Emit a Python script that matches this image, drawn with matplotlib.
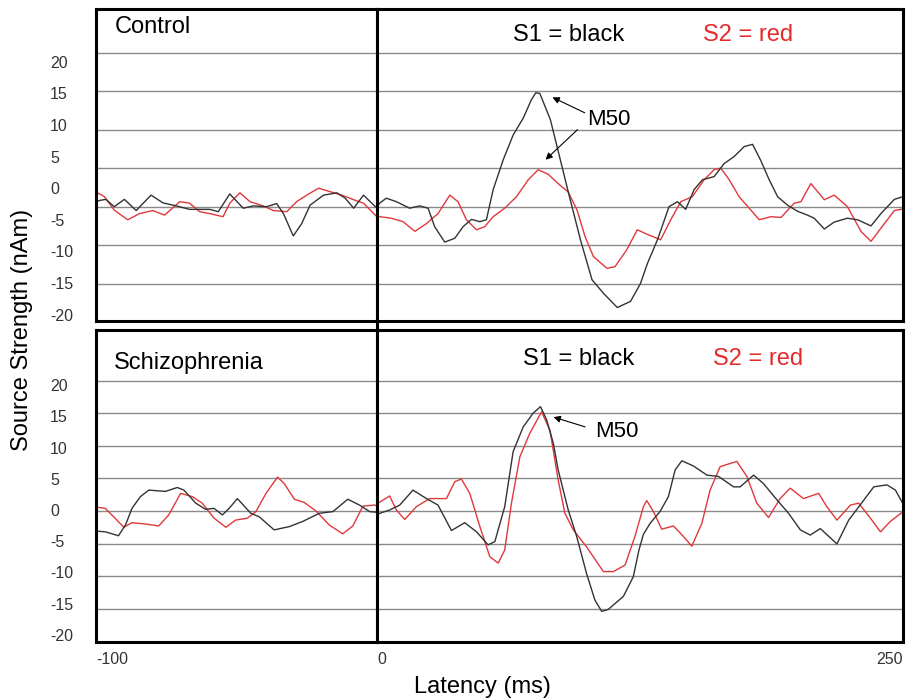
import matplotlib
matplotlib.use('Agg')
import matplotlib.pyplot as plt
from matplotlib.lines import Line2D

plt.rcParams['font.family'] = ['Liberation Sans', 'DejaVu Sans']

# Control, pre-stimulus (-100..0 ms)
ctrl_pre_s1_t = [-100, -98.8, -96.5, -93.5, -89.9, -85.7, -80.4, -76.2, -71.4, -66.7, -59.5, -56.5, -52.4, -47.6,
                 -44, -39.3, -35.7, -33.3, -29.8, -26.8, -23.8, -19, -14.3, -11.3, -8.3, -4.8, -0.6, 0]
ctrl_pre_s1_v = [0.6, 0.8, 0.95, 0.0, 0.95, -0.5, 1.5, 0.5, 0.1, -0.35, -0.35, -0.65, 1.65, -0.2,
                 0.1, 0.0, 0.4, -0.9, -3.8, -2.2, 0.2, 1.5, 1.8, 1.1, -0.2, 1.5, 0.0, -0.1]
ctrl_pre_s2_t = [-100, -97, -93.5, -88.7, -84.5, -79.8, -75.6, -70.2, -66.7, -63.1, -59.5, -54.8, -52.4, -48.8,
                 -45.2, -40.5, -36.9, -32.1, -28.6, -25, -20.8, -16.7, -12.5, -8.3, -4.8, -0.6, 0]
ctrl_pre_s2_v = [1.9, 1.3, -0.45, -1.7, -0.9, -0.5, -1.1, 0.65, 0.45, -0.65, -0.9, -1.3, 0.45, 1.8,
                 0.65, 0.1, -0.5, -0.65, 0.65, 1.5, 2.4, 1.95, 1.5, 0.9, 0.45, -1.1, -1.3]

# Control, post-stimulus (0..250 ms)
ctrl_post_s1_t = [0, 1.25, 4.4, 9.2, 15.5, 20.3, 24.3, 27.4, 32.2, 37, 40.9, 44.9, 48.9, 52, 55.2, 60, 64.7,
                  69.5, 73.4, 75.5, 77.4, 82.4, 86.4, 91.1, 96.7, 102.2, 107.8, 114.2, 120.5, 125.2, 128.5,
                  133.3, 138.8, 142.8, 146.7, 150.7, 154.7, 160.2, 165, 169.7, 174.5, 178.5, 182.4, 186.4,
                  190.4, 195.1, 199.9, 204.6, 207.8, 212.6, 217.3, 223.6, 228.4, 234.8, 239.5, 245.9, 250]
ctrl_post_s1_v = [0.0, 0.45, 1.1, 0.65, -0.2, 0.1, -0.2, -2.6, -4.6, -4.1, -2.6, -1.65, -1.95, -1.7, 2.2, 6.1,
                  9.3, 11.5, 13.9, 14.8, 14.7, 11.3, 6.9, 1.7, -4.3, -9.5, -11.3, -13.1, -12.3, -10.0, -7.4,
                  -4.3, 0.0, 0.65, -0.35, 2.2, 3.5, 3.9, 5.6, 6.5, 7.8, 8.1, 6.0, 3.5, 1.3, 0.2, -0.6, -1.1,
                  -1.5, -2.9, -2.0, -1.5, -1.7, -2.5, -0.9, 0.95, 1.3]
ctrl_post_s2_t = [0, 1.25, 6.8, 12.4, 18, 23.5, 29, 34.6, 38.5, 42.5, 47.3, 51.2, 55.2, 60.7, 66.3, 71.9,
                  76.6, 81.4, 86.1, 90.9, 95.1, 98.9, 102.9, 109.3, 113.1, 118.7, 123.7, 128.5, 134.8, 139.6,
                  144.4, 149.9, 155.5, 160.2, 163.4, 167.4, 172.1, 176.9, 181.7, 187.2, 192, 198.3, 201.5,
                  206.2, 212.6, 217.3, 223.6, 230, 234.8, 239.5, 245.9, 250]
ctrl_post_s2_v = [-1.3, -1.3, -1.5, -1.95, -3.2, -2.2, -0.9, 1.5, 0.65, -1.7, -3.0, -2.6, -1.3, -0.2, 1.3,
                  3.5, 4.8, 4.2, 3.0, 1.9, -0.45, -3.9, -6.5, -8.0, -7.8, -5.6, -3.0, -3.6, -4.3, -1.7, 0.65,
                  1.3, 3.5, 4.8, 5.0, 3.5, 1.3, -0.2, -1.7, -1.3, -1.4, 0.45, 0.65, 3.0, 0.9, 1.5, 0.0,
                  -3.2, -4.5, -2.8, -0.5, -0.3]

# Schizophrenia, pre-stimulus
schz_pre_s1_t = [-100, -99.7, -96.7, -92, -89.5, -87.2, -84.2, -81.2, -75.3, -71.1, -68.7, -64.5, -61, -58,
                 -55, -52.6, -49.7, -44.9, -41.9, -36.6, -31.2, -26.4, -20.5, -15.7, -10.4, -6.2, -2.6, 0]
schz_pre_s1_v = [-1.0, -3.1, -3.2, -3.8, -2.15, 0.4, 2.2, 3.2, 3.0, 3.6, 3.2, 1.2, 0.25, 0.4,
                 -0.6, 0.4, 1.9, -0.35, -0.9, -2.9, -2.4, -1.6, -0.35, -0.1, 1.8, 0.9, -0.1, -0.2]
schz_pre_s2_t = [-100, -99.1, -96.7, -93.7, -90.1, -87.2, -82.4, -77.7, -74.1, -69.9, -65.7, -62.2, -58,
                 -53.8, -50.3, -46.1, -43.1, -39.5, -35.4, -33, -29.4, -25.9, -21.7, -17, -12.2, -8.6, -5,
                 -0.9, 0]
schz_pre_s2_v = [0.5, 0.55, 0.4, -0.9, -2.5, -1.8, -2.0, -2.3, -0.6, 2.7, 2.2, 1.2, -1.1,
                 -2.5, -1.4, -1.1, -0.1, 2.7, 5.2, 4.2, 1.8, 1.3, 0.0, -2.15, -3.5, -2.3, 0.75,
                 0.9, 0.8]

# Schizophrenia, post-stimulus
schz_post_s1_t = [0, 0.5, 6, 10.8, 17.1, 23.5, 29, 35.4, 41.7, 47.3, 52.8, 56, 60.7, 64.7, 69.5, 74.2, 77.7,
                  80.6, 83.8, 86.1, 90.9, 94.9, 99.6, 103.6, 106.8, 109.9, 117.1, 121.8, 124.5, 126.6, 129.8,
                  134.5, 138.5, 141.7, 144.9, 150.4, 156.8, 162.3, 169.5, 172.6, 179, 183.7, 190.1, 195.6,
                  201.2, 205.9, 210.7, 218.6, 224.2, 229, 236.1, 242.4, 246.4, 250]
schz_post_s1_v = [-0.3, -0.45, 0.15, 0.9, 3.2, 1.9, 0.9, -3.0, -1.8, -3.2, -5.2, -4.7, 0.65, 9.1, 12.9,
                  15.0, 16.0, 14.0, 10.4, 6.3, 0.15, -3.9, -9.6, -13.7, -15.4, -15.1, -13.1, -10.1, -6.0,
                  -3.6, -1.9, -0.1, 2.2, 6.3, 7.7, 6.9, 5.5, 5.3, 3.7, 3.7, 5.5, 4.2, 1.7, -0.35, -2.9,
                  -3.7, -2.7, -5.05, -1.4, 0.65, 3.7, 4.0, 3.2, 1.1]
schz_post_s2_t = [0, 0.5, 6, 9.2, 13.2, 18.7, 25, 33, 37, 40.1, 44.1, 48.9, 53.6, 57.6, 60.7, 63.9, 67.9,
                  72.6, 78.2, 82.2, 86.1, 89.3, 93.3, 99.6, 107.6, 112.3, 117.9, 122.6, 126.6, 128.2, 131.4,
                  135.3, 140.9, 145.6, 149.6, 154.4, 158.3, 163.1, 171, 175.8, 180.5, 186.1, 191.6, 196.4,
                  202.7, 209.9, 213.8, 218.6, 225, 228.9, 234.5, 239.3, 244, 250]
schz_post_s2_v = [1.0, 1.2, 2.3, 0.15, -1.3, 0.65, 1.9, 1.9, 4.5, 4.9, 2.7, -2.4, -7.0, -8.0, -6.0, 1.2,
                  8.3, 11.9, 15.2, 12.4, 4.75, -0.35, -2.9, -5.5, -9.3, -9.3, -8.3, -3.9, 0.65, 1.6, -0.1,
                  -2.8, -2.3, -3.9, -5.4, -1.9, 3.2, 6.8, 7.6, 5.3, 1.2, -1.0, 1.9, 3.5, 1.9, 2.7, 0.65,
                  -1.4, 0.9, 1.2, -1.1, -3.2, -1.6, -0.1]

label_ticks = [20, 15, 10, 5, 0, -5, -10, -15, -20]

W, H = 907, 700
BLACK = '#333333'
RED = '#e0383c'
GRID = '#8a8a8a'


def box(x0, y0, x1, y1):
    # pixel box (from top-left) -> figure fraction rect
    return [x0 / W, 1 - y1 / H, (x1 - x0) / W, (y1 - y0) / H]


fig = plt.figure(figsize=(9.07, 7.0), dpi=100)
ax_tl = fig.add_axes(box(96, 8.5, 377, 321))
ax_tr = fig.add_axes(box(377, 8.5, 903, 321))
ax_bl = fig.add_axes(box(96, 330, 377, 642))
ax_br = fig.add_axes(box(377, 330, 903, 642))

panels = [
    (ax_tl, (-100, 0), (-14.85, 25.74), [20, 15, 10, 5, 0, -5, -10],
     ctrl_pre_s1_t, ctrl_pre_s1_v, ctrl_pre_s2_t, ctrl_pre_s2_v),
    (ax_tr, (0, 250), (-14.85, 25.74), [20, 15, 10, 5, 0, -5, -10],
     ctrl_post_s1_t, ctrl_post_s1_v, ctrl_post_s2_t, ctrl_post_s2_v),
    (ax_bl, (-100, 0), (-20.1, 27.76), [20, 15, 10, 5, 0, -5, -10, -15],
     schz_pre_s1_t, schz_pre_s1_v, schz_pre_s2_t, schz_pre_s2_v),
    (ax_br, (0, 250), (-20.1, 27.76), [20, 15, 10, 5, 0, -5, -10, -15],
     schz_post_s1_t, schz_post_s1_v, schz_post_s2_t, schz_post_s2_v),
]

for ax, xl, yl, grid_y, t1, v1, t2, v2 in panels:
    ax.set_xlim(*xl)
    ax.set_ylim(*yl)
    ax.set_yticks(grid_y)
    ax.grid(axis='y', color=GRID, lw=1.0)
    ax.set_axisbelow(True)
    ax.tick_params(axis='x', bottom=False, labelbottom=False)
    for s in ax.spines.values():
        s.set_linewidth(2.2)
        s.set_color('black')
    ax.plot(t2, v2, color=RED, lw=1.0)
    ax.plot(t1, v1, color=BLACK, lw=1.0)

# y tick labels (own scale, as in the pasted original)
for ax, yl in [(ax_tl, (-21.0, 28.45)), (ax_bl, (-21.15, 28.85))]:
    lab = ax.twinx()
    lab.set_ylim(*yl)
    lab.yaxis.set_ticks_position('left')
    lab.tick_params(axis='y', length=0, pad=33, labelsize=11.5, labelcolor=BLACK)
    lab.set_yticks(label_ticks, labels=[str(v) for v in label_ticks], ha='left')
    for s in lab.spines.values():
        s.set_visible(False)

# twinx turns the left ticks back on, so hide the grid axes' y ticks afterwards
for ax in (ax_tl, ax_tr, ax_bl, ax_br):
    ax.tick_params(axis='y', left=False, right=False, labelleft=False, labelright=False)

# x tick labels
for ax in (ax_bl, ax_br):
    ax.tick_params(axis='x', bottom=True, labelbottom=True, length=0, pad=7,
                   labelsize=11.5, labelcolor=BLACK)
ax_bl.set_xticks([-100], labels=['-100'], ha='left')
ax_br.set_xticks([0, 250], labels=['0', '250'])
xt = ax_br.get_xticklabels()
xt[0].set_ha('left')
xt[1].set_ha('right')

# vertical line joining both panels at 0 ms
fig.add_artist(Line2D([377 / W, 377 / W], [1 - 321 / H, 1 - 330 / H], color='black', lw=2.2))

# panel texts
fs = 17
fig.text(115 / W, 1 - 33 / H, 'Control', fontsize=fs, va='baseline')
fig.text(513 / W, 1 - 41 / H, 'S1 = black', fontsize=fs, va='baseline')
fig.text(703 / W, 1 - 41 / H, 'S2 = red', fontsize=fs, va='baseline', color='#e32b2b')
fig.text(114 / W, 1 - 369 / H, 'Schizophrenia', fontsize=fs, va='baseline')
fig.text(523 / W, 1 - 365 / H, 'S1 = black', fontsize=fs, va='baseline')
fig.text(713 / W, 1 - 365 / H, 'S2 = red', fontsize=fs, va='baseline', color='#e32b2b')

# M50 annotations
arrow = dict(arrowstyle='-|>', color='black', lw=0.8, mutation_scale=10, shrinkA=0, shrinkB=0)
ax_tr.annotate('', xy=(83.4, 14.2), xytext=(98.7, 12.2), arrowprops=arrow)
ax_tr.annotate('', xy=(80.1, 6.1), xytext=(95.3, 10.0), arrowprops=arrow)
ax_tr.text(100.1, 10.6, 'M50', fontsize=16, va='baseline')
ax_br.annotate('', xy=(83.9, 14.4), xytext=(98.9, 12.9), arrowprops=arrow)
ax_br.text(103.9, 11.35, 'M50', fontsize=16, va='baseline')

# axis titles
fig.text(21.7 / W, 1 - 330 / H, 'Source Strength (nAm)', fontsize=fs, rotation=90,
         ha='center', va='center')
fig.text(482 / W, 1 - 693 / H, 'Latency (ms)', fontsize=fs, ha='center', va='baseline')

fig.savefig('out.png', dpi=100)
